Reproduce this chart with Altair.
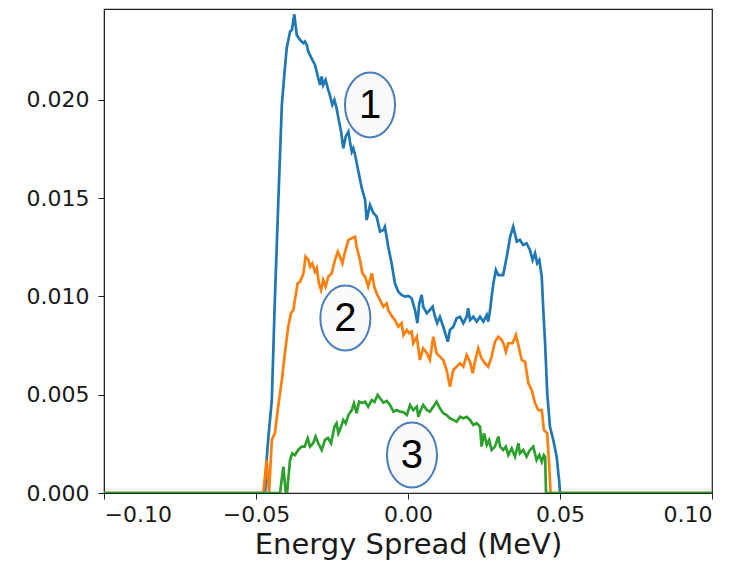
import altair as alt
import pandas as pd

# Energy spread profiles (x in MeV, y normalised density), three cases
x1 = [-0.1000, -0.0470, -0.0465, -0.0460, -0.0448, -0.0438, -0.0427, -0.0415, -0.0406, -0.0399,
      -0.0388, -0.0382, -0.0374, -0.0366, -0.0355, -0.0344, -0.0339, -0.0333, -0.0328, -0.0317,
      -0.0306, -0.0295, -0.0289, -0.0284, -0.0279, -0.0271, -0.0264, -0.0257, -0.0249, -0.0242,
      -0.0235, -0.0229, -0.0220, -0.0213, -0.0205, -0.0196, -0.0191, -0.0185, -0.0180, -0.0174,
      -0.0163, -0.0152, -0.0141, -0.0136, -0.0125, -0.0114, -0.0103, -0.0092, -0.0081, -0.0076,
      -0.0065, -0.0054, -0.0043, -0.0032, -0.0021, -0.0010, 0.0001, 0.0012, 0.0023, 0.0031,
      0.0037, 0.0045, 0.0050, 0.0062, 0.0072, 0.0081, 0.0089, 0.0096, 0.0105, 0.0116,
      0.0131, 0.0138, 0.0149, 0.0160, 0.0171, 0.0182, 0.0193, 0.0198, 0.0204, 0.0215,
      0.0226, 0.0237, 0.0248, 0.0259, 0.0264, 0.0270, 0.0275, 0.0281, 0.0289, 0.0297,
      0.0313, 0.0325, 0.0336, 0.0346, 0.0358, 0.0368, 0.0379, 0.0390, 0.0401, 0.0410,
      0.0418, 0.0425, 0.0432, 0.0440, 0.0445, 0.0451, 0.0458, 0.0467, 0.0478, 0.0489,
      0.0498, 0.0500, 0.1000]
y1 = [0.0, 0.0, 0.00168, 0.00270, 0.00473, 0.00982, 0.01466, 0.01975, 0.02144, 0.02263,
      0.02348, 0.02356, 0.02436, 0.02331, 0.02305, 0.02289, 0.02297, 0.02280, 0.02246, 0.02212,
      0.02178, 0.02110, 0.02076, 0.02119, 0.02076, 0.02102, 0.02060, 0.02025, 0.01975, 0.02000,
      0.01959, 0.01908, 0.01839, 0.01754, 0.01813, 0.01839, 0.01788, 0.01737, 0.01754, 0.01720,
      0.01635, 0.01551, 0.01491, 0.01389, 0.01466, 0.01425, 0.01406, 0.01330, 0.01338, 0.01355,
      0.01253, 0.01169, 0.01067, 0.01024, 0.01008, 0.00999, 0.01003, 0.00991, 0.00931, 0.00864,
      0.00965, 0.01008, 0.00948, 0.00915, 0.00931, 0.00948, 0.00897, 0.00864, 0.00897, 0.00846,
      0.00770, 0.00830, 0.00846, 0.00889, 0.00897, 0.00864, 0.00897, 0.00940, 0.00880, 0.00897,
      0.00872, 0.00897, 0.00872, 0.00906, 0.00872, 0.00931, 0.00999, 0.01067, 0.01135, 0.01109,
      0.01109, 0.01203, 0.01304, 0.01355, 0.01279, 0.01288, 0.01262, 0.01271, 0.01237, 0.01186,
      0.01220, 0.01169, 0.01186, 0.01101, 0.00931, 0.00762, 0.00507, 0.00337, 0.00270, 0.00185,
      0.00049, 0.0, 0.0]

x2 = [-0.1000, -0.0476, -0.0465, -0.0457, -0.0448, -0.0438, -0.0427, -0.0415, -0.0405, -0.0394,
      -0.0385, -0.0377, -0.0372, -0.0363, -0.0355, -0.0344, -0.0337, -0.0328, -0.0322, -0.0315,
      -0.0306, -0.0300, -0.0293, -0.0286, -0.0279, -0.0271, -0.0262, -0.0251, -0.0240, -0.0231,
      -0.0224, -0.0216, -0.0207, -0.0196, -0.0185, -0.0174, -0.0169, -0.0158, -0.0150, -0.0141,
      -0.0131, -0.0119, -0.0111, -0.0103, -0.0092, -0.0081, -0.0070, -0.0065, -0.0054, -0.0043,
      -0.0032, -0.0021, -0.0015, -0.0004, 0.0004, 0.0012, 0.0017, 0.0029, 0.0039, 0.0050,
      0.0062, 0.0072, 0.0083, 0.0094, 0.0105, 0.0116, 0.0127, 0.0138, 0.0149, 0.0160,
      0.0171, 0.0182, 0.0193, 0.0204, 0.0213, 0.0220, 0.0231, 0.0242, 0.0253, 0.0264,
      0.0275, 0.0286, 0.0297, 0.0308, 0.0316, 0.0322, 0.0330, 0.0344, 0.0355, 0.0363,
      0.0374, 0.0385, 0.0396, 0.0407, 0.0418, 0.0429, 0.0440, 0.0447, 0.0458, 0.0464,
      0.0469, 0.1000]
y2 = [0.0, 0.0, 0.00168, 0.0, 0.00270, 0.00304, 0.00439, 0.00575, 0.00711, 0.00846,
      0.00915, 0.00931, 0.00982, 0.01067, 0.01075, 0.01118, 0.01203, 0.01186, 0.01152, 0.01169,
      0.01126, 0.01144, 0.01067, 0.01033, 0.01084, 0.01050, 0.01101, 0.01118, 0.01186, 0.01228,
      0.01203, 0.01169, 0.01228, 0.01288, 0.01296, 0.01304, 0.01253, 0.01186, 0.01118, 0.01101,
      0.01050, 0.01118, 0.01050, 0.01016, 0.00982, 0.00948, 0.00965, 0.00931, 0.00901, 0.00880,
      0.00846, 0.00864, 0.00804, 0.00830, 0.00813, 0.00821, 0.00762, 0.00795, 0.00677, 0.00736,
      0.00711, 0.00677, 0.00795, 0.00711, 0.00694, 0.00677, 0.00626, 0.00541, 0.00626, 0.00643,
      0.00660, 0.00643, 0.00702, 0.00667, 0.00609, 0.00667, 0.00736, 0.00685, 0.00660, 0.00643,
      0.00694, 0.00770, 0.00795, 0.00779, 0.00753, 0.00719, 0.00762, 0.00762, 0.00804, 0.00753,
      0.00677, 0.00668, 0.00558, 0.00524, 0.00456, 0.00422, 0.00422, 0.00321, 0.00304, 0.00151,
      0.0, 0.0]

x3 = [-0.1000, -0.0421, -0.0410, -0.0402, -0.0398, -0.0388, -0.0381, -0.0372, -0.0361, -0.0350,
      -0.0340, -0.0330, -0.0322, -0.0312, -0.0304, -0.0295, -0.0284, -0.0273, -0.0263, -0.0253,
      -0.0242, -0.0235, -0.0229, -0.0220, -0.0213, -0.0205, -0.0196, -0.0185, -0.0178, -0.0169,
      -0.0161, -0.0151, -0.0141, -0.0131, -0.0119, -0.0110, -0.0100, -0.0092, -0.0081, -0.0070,
      -0.0059, -0.0048, -0.0037, -0.0026, -0.0016, -0.0004, 0.0007, 0.0017, 0.0029, 0.0034,
      0.0042, 0.0050, 0.0062, 0.0072, 0.0083, 0.0094, 0.0105, 0.0116, 0.0127, 0.0138,
      0.0149, 0.0160, 0.0171, 0.0182, 0.0193, 0.0204, 0.0215, 0.0226, 0.0237, 0.0242,
      0.0250, 0.0259, 0.0267, 0.0275, 0.0286, 0.0297, 0.0303, 0.0313, 0.0322, 0.0330,
      0.0341, 0.0352, 0.0363, 0.0368, 0.0379, 0.0390, 0.0401, 0.0412, 0.0423, 0.0432,
      0.0440, 0.0447, 0.0451, 0.0454, 0.1000]
y3 = [0.0, 0.0, 0.00134, 0.0, 0.0, 0.00168, 0.00202, 0.00193, 0.00219, 0.00236,
      0.00236, 0.00278, 0.00236, 0.00253, 0.00287, 0.00253, 0.00219, 0.00270, 0.00280, 0.00253,
      0.00337, 0.00355, 0.00304, 0.00337, 0.00372, 0.00355, 0.00397, 0.00422, 0.00456, 0.00406,
      0.00465, 0.00458, 0.00465, 0.00439, 0.00473, 0.00463, 0.00499, 0.00482, 0.00460, 0.00468,
      0.00448, 0.00414, 0.00422, 0.00414, 0.00412, 0.00397, 0.00448, 0.00422, 0.00439, 0.00388,
      0.00422, 0.00448, 0.00422, 0.00414, 0.00439, 0.00465, 0.00431, 0.00406, 0.00397, 0.00380,
      0.00372, 0.00363, 0.00388, 0.00380, 0.00388, 0.00372, 0.00346, 0.00355, 0.00337, 0.00236,
      0.00304, 0.00244, 0.00270, 0.00219, 0.00236, 0.00287, 0.00236, 0.00219, 0.00236, 0.00193,
      0.00227, 0.00185, 0.00253, 0.00202, 0.00219, 0.00185, 0.00219, 0.00236, 0.00168, 0.00193,
      0.00159, 0.00193, 0.00185, 0.0, 0.0]

# Numbered callouts next to each curve
label_text = ["1", "2", "3"]
label_x = [-0.0125, -0.0206, 0.0013]
label_y = [0.01975, 0.0089, 0.00193]

series = ["1", "2", "3"]
colors = ["#1f77b4", "#ff7f0e", "#2ca02c"]

frames = []
for name, xs, ys in zip(series, [x1, x2, x3], [y1, y2, y3]):
    frames.append(pd.DataFrame({"x": xs, "y": ys, "series": name}))
curves = pd.concat(frames, ignore_index=True)
labels = pd.DataFrame({"x": label_x, "y": label_y, "text": label_text})

x_scale = alt.Scale(domain=[-0.1, 0.1], nice=False, zero=False)
y_scale = alt.Scale(domain=[0, 0.02463], nice=False)

x_axis = alt.Axis(
    title="Energy Spread (MeV)", values=[-0.1, -0.05, 0.0, 0.05, 0.1], format=".2f",
    labelFont="DejaVu Sans", labelFontSize=22, labelColor="#1a1a1a", labelPadding=5,
    titleFont="DejaVu Sans", titleFontSize=29, titleFontWeight="normal", titleColor="#1a1a1a",
    titlePadding=5, tickSize=6, tickColor="#222", domainColor="#222", grid=False,
)
y_axis = alt.Axis(
    title=None, values=[0, 0.005, 0.01, 0.015, 0.02], format=".3f",
    labelFont="DejaVu Sans", labelFontSize=22, labelColor="#1a1a1a", labelPadding=9,
    tickSize=6, tickColor="#222", domainColor="#222", grid=False,
)

lines = alt.Chart(curves).mark_line(strokeWidth=2.7, clip=True).encode(
    x=alt.X("x:Q", scale=x_scale, axis=x_axis),
    y=alt.Y("y:Q", scale=y_scale, axis=y_axis),
    color=alt.Color("series:N", scale=alt.Scale(domain=series, range=colors), legend=None),
    order=alt.Order("x:Q"),
)

ellipse_path = "M -0.77 0 A 0.77 1 0 1 0 0.77 0 A 0.77 1 0 1 0 -0.77 0 Z"
bubbles = alt.Chart(labels).mark_point(
    shape=ellipse_path, size=4225, filled=True, fill="#fafafa", fillOpacity=1,
    stroke="#4a7ebb", strokeWidth=2, strokeOpacity=1, opacity=1,
).encode(x=alt.X("x:Q", scale=x_scale), y=alt.Y("y:Q", scale=y_scale))

numbers = alt.Chart(labels).mark_text(
    font="Liberation Sans", fontSize=40, color="black", baseline="middle", align="center", dy=1,
).encode(x=alt.X("x:Q", scale=x_scale), y=alt.Y("y:Q", scale=y_scale), text="text:N")

chart = alt.layer(lines, bubbles, numbers).properties(
    width=608, height=484,
    autosize=alt.AutoSizeParams(type="none"),
    padding={"left": 104, "top": 9, "right": 28, "bottom": 68},
    background="white",
).configure_view(stroke="#222", strokeWidth=1.2)

chart.save("out.html", embed_options={"renderer": "svg", "actions": False})
